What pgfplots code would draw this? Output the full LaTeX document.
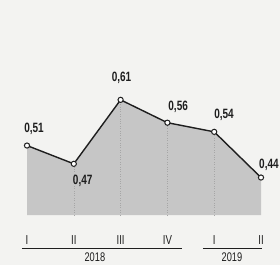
\documentclass[border=0pt]{standalone}
\usepackage{fontspec}
\setmainfont{Liberation Sans}[FakeStretch=0.74]
\usepackage{pgfplots}
\pgfplotsset{compat=1.18}
\definecolor{bg}{HTML}{F3F3F1}
\definecolor{areafill}{HTML}{C6C6C6}
\definecolor{linec}{HTML}{1E1E1E}
\begin{document}
\begin{tikzpicture}
\useasboundingbox (0,0) rectangle (280pt,265pt);
\fill[bg] (0,0) rectangle (280pt,265pt);
\begin{axis}[
  at={(27pt,50pt)}, anchor=south west,
  scale only axis, width=234pt, height=138pt,
  xmin=0, xmax=5, ymin=0.358, ymax=0.66,
  clip=false,
  axis line style={draw=none},
  major tick style={draw=none},
  ymajorticks=false,
  xtick={0,1,2,3,4,5},
  xticklabels={I,II,III,IV,I,II},
  xticklabel style={anchor=south, yshift=-33pt, font=\fontsize{13}{14}\selectfont, text=linec},
]
\addplot[fill=areafill, draw=none] coordinates {(0,0.51) (1,0.47) (2,0.61) (3,0.56) (4,0.54) (5,0.44)} \closedcycle;
\addplot[black!35, dotted, line width=0.4pt, ycomb] coordinates {(1,0.47) (2,0.61) (3,0.56) (4,0.54)};
\addplot[linec, line width=1.4pt, mark=*, mark size=2.6pt, mark options={fill=white, draw=linec, line width=1pt}]
  coordinates {(0,0.51) (1,0.47) (2,0.61) (3,0.56) (4,0.54) (5,0.44)};
\begin{scope}[font=\bfseries\fontsize{13.5}{14}\selectfont, text=linec]
\node at (axis cs:0.15,0.546) {0,51};
\node at (axis cs:1.19,0.432) {0,47};
\node at (axis cs:2.02,0.659) {0,61};
\node at (axis cs:3.23,0.594) {0,56};
\node at (axis cs:4.21,0.577) {0,54};
\node at (axis cs:5.17,0.468) {0,44};
\end{scope}
\draw[linec, line width=0.6pt] (axis cs:-0.11,0.286) -- (axis cs:3.31,0.286);
\draw[linec, line width=0.6pt] (axis cs:3.76,0.286) -- (axis cs:5.02,0.286);
\node[font=\fontsize{12.5}{13}\selectfont, anchor=north, text=linec] at (axis cs:1.45,0.283) {2018};
\node[font=\fontsize{12.5}{13}\selectfont, anchor=north, text=linec] at (axis cs:4.38,0.283) {2019};
\end{axis}
\end{tikzpicture}
\end{document}
